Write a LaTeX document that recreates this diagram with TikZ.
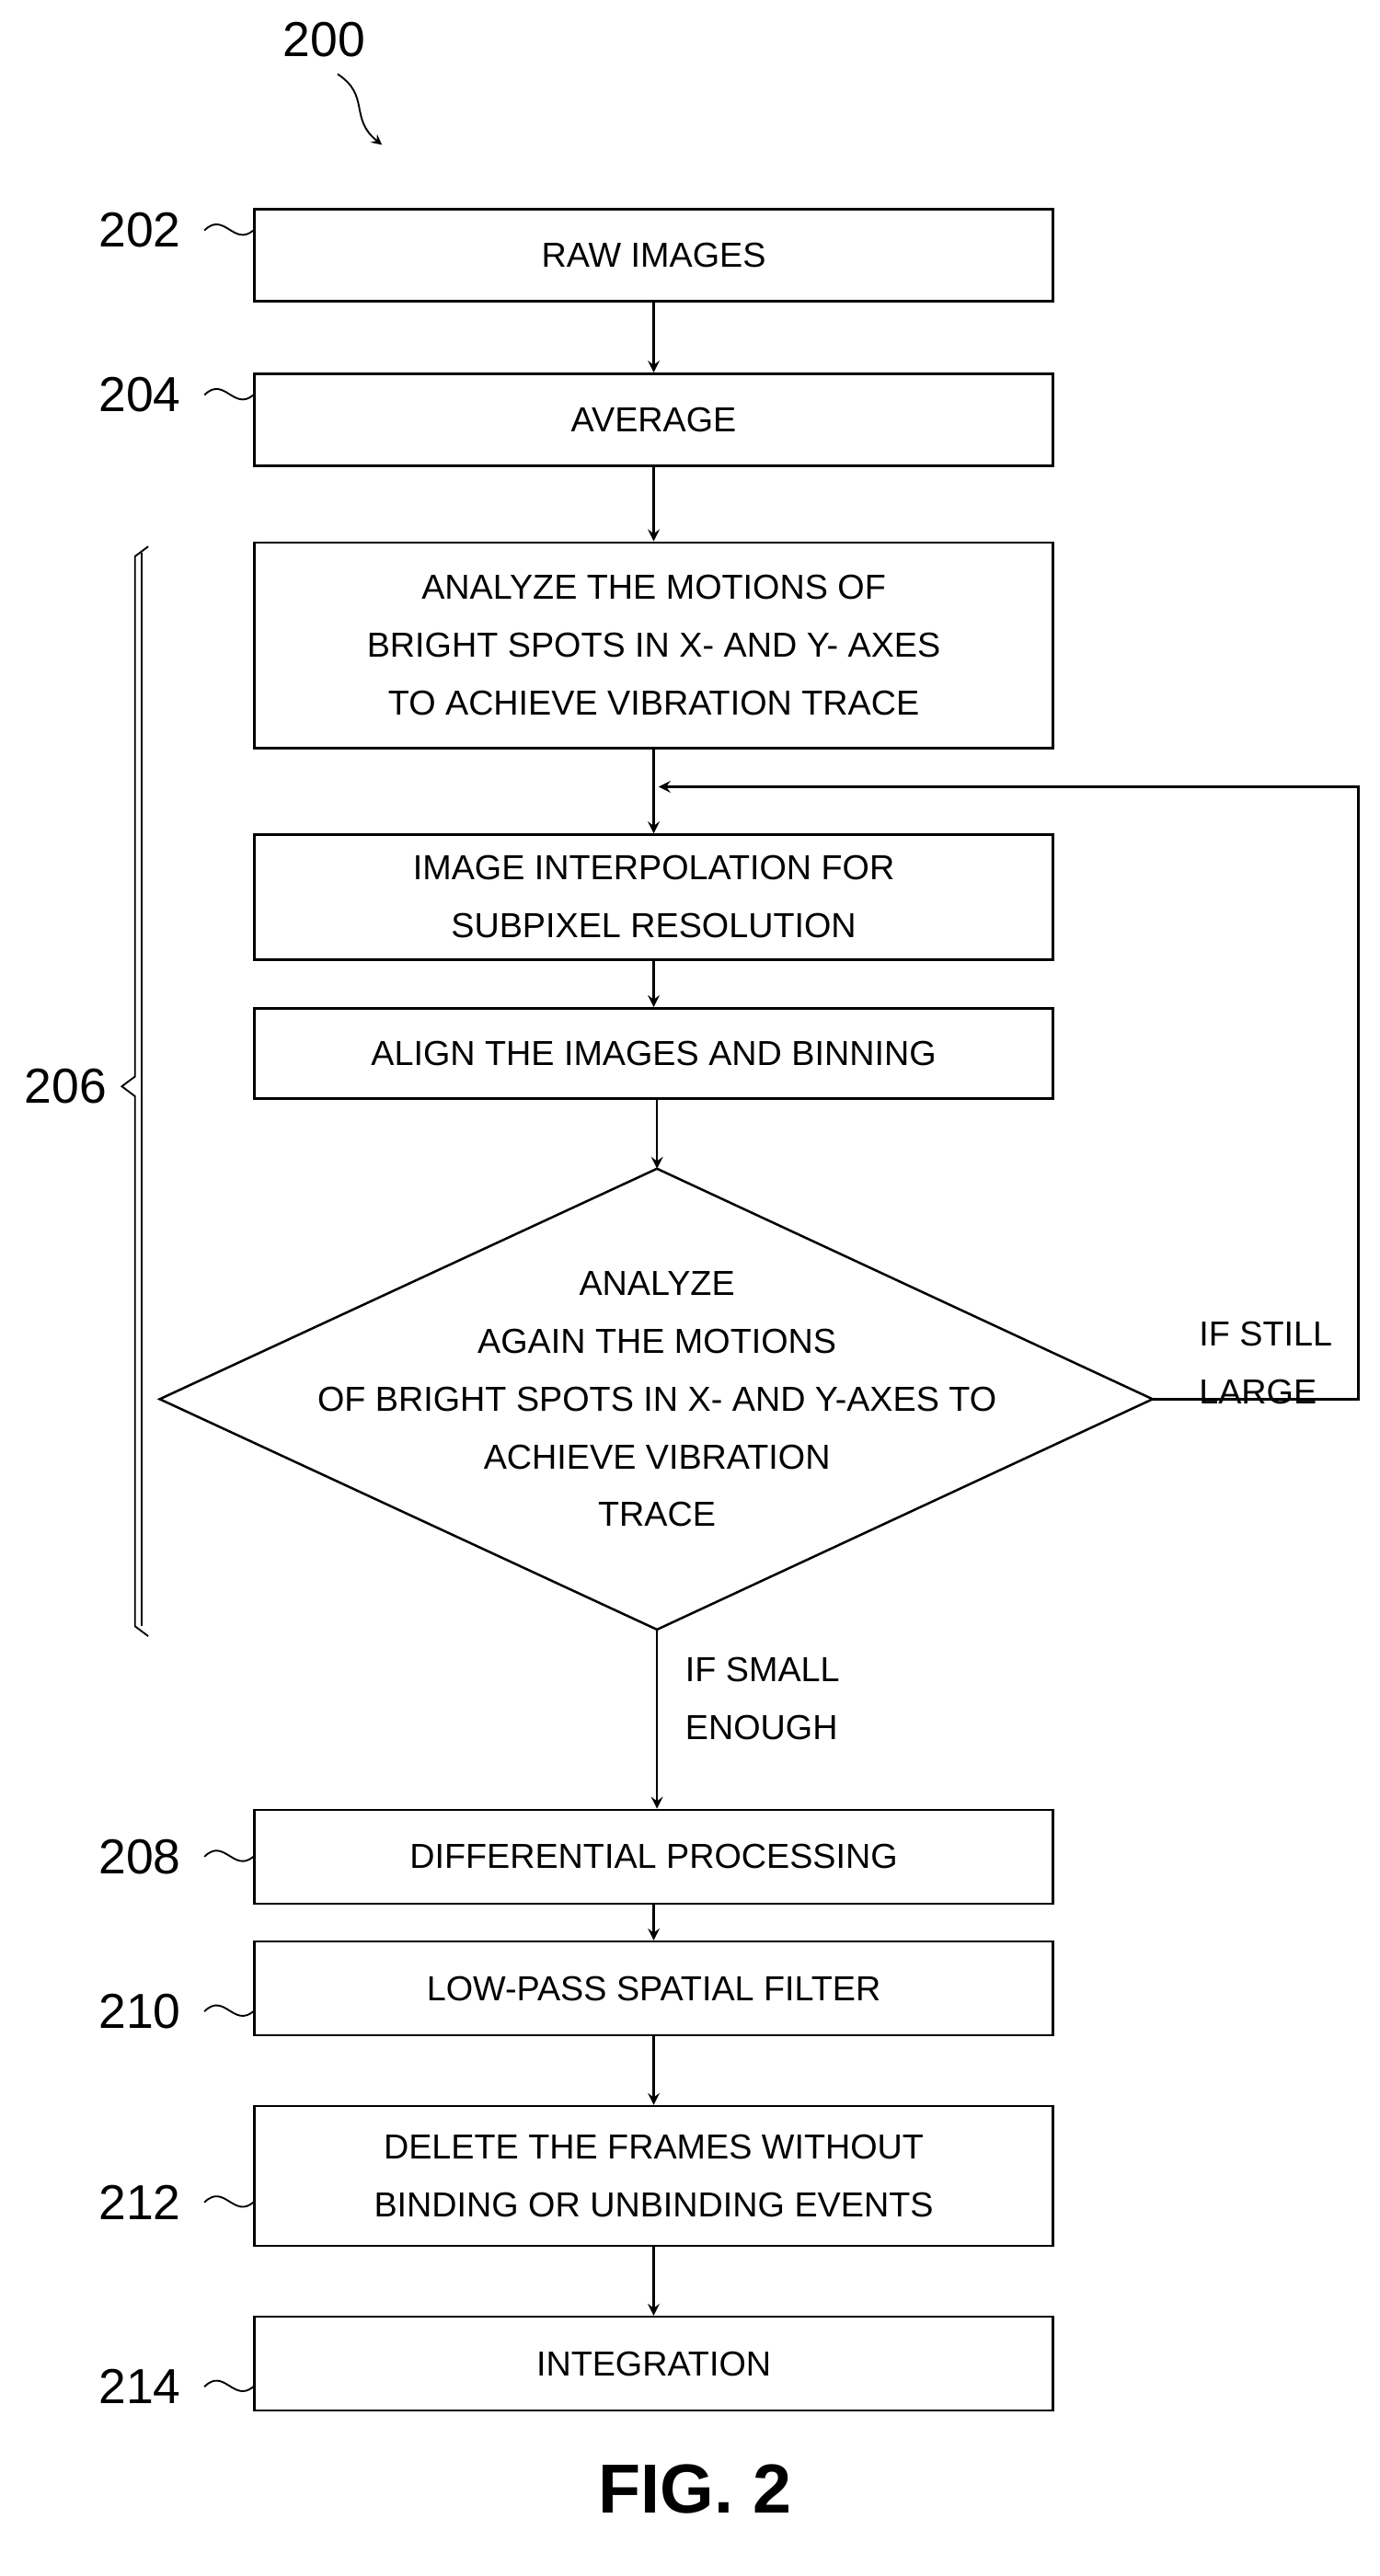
\documentclass[tikz,border=0pt]{standalone}
\usepackage{fontspec}
\setmainfont{Liberation Sans}
\begin{document}
\begin{tikzpicture}[x=0.02cm,y=-0.02cm,
    box/.style={draw, line width=0.8pt, minimum width=9.7cm, align=center,
      font=\fontsize{12}{20}\selectfont},
    num/.style={font=\fontsize{17}{20}\selectfont},
    lead/.style={line width=0.6pt},
    flow/.style={->, >=stealth, line width=0.8pt}]

    \useasboundingbox (0,0) rectangle (838,1565);

    \node[box, minimum height=1.12cm] (raw) at (397,155) {RAW IMAGES};
    \node[box, minimum height=1.12cm] (avg) at (397,255) {AVERAGE};
    \node[box, minimum height=2.5cm] (ana) at (397,392) {ANALYZE THE MOTIONS OF\\BRIGHT SPOTS IN X- AND Y- AXES\\TO ACHIEVE VIBRATION TRACE};
    \node[box, minimum height=1.52cm] (interp) at (397,545) {IMAGE INTERPOLATION FOR\\SUBPIXEL RESOLUTION};
    \node[box, minimum height=1.1cm] (align) at (397,640) {ALIGN THE IMAGES AND BINNING};
    % decision
    \coordinate (dtop) at (399,710);
    \coordinate (dbot) at (399,990);
    \coordinate (dleft) at (97,850);
    \coordinate (dright) at (700,850);
    \draw[line width=0.8pt] (dtop) -- (dright) -- (dbot) -- (dleft) -- cycle;
    \node[align=center, font=\fontsize{12}{20}\selectfont] (again) at (399,850)
      {ANALYZE\\AGAIN THE MOTIONS\\OF BRIGHT SPOTS IN X- AND Y-AXES TO\\ACHIEVE VIBRATION\\TRACE};
    \node[box, minimum height=1.14cm] (diff) at (397,1128) {DIFFERENTIAL PROCESSING};
    \node[box, minimum height=1.14cm] (low) at (397,1208) {LOW-PASS SPATIAL FILTER};
    \node[box, minimum height=1.7cm] (del) at (397,1322) {DELETE THE FRAMES WITHOUT\\BINDING OR UNBINDING EVENTS};
    \node[box, minimum height=1.14cm] (integ) at (397,1436) {INTEGRATION};

    % connectors
    \draw[flow] (raw) -- (avg);
    \draw[flow] (avg) -- (ana);
    \draw[flow] (ana) -- (interp);
    \draw[flow] (interp) -- (align);
    \draw[flow] (align.south -| dtop) -- (dtop);
    \draw[flow] (dbot) -- (diff.north -| dbot);
    \draw[flow] (diff) -- (low);
    \draw[flow] (low) -- (del);
    \draw[flow] (del) -- (integ);
    \coordinate (loopin) at (400,478);
    \draw[flow] (dright) -- (825,850) -- (825,478) -- (loopin);

    \node[anchor=west, align=left, font=\fontsize{12}{20}\selectfont] (large) at (722,828) {IF STILL\\LARGE};
    \node[anchor=west, align=left, font=\fontsize{12}{20}\selectfont] (small) at (410,1032) {IF SMALL\\ENOUGH};

    % reference numerals
    \node[num] (n200) at (197,24) {200};
    \coordinate (p200) at (232,88);
    \draw[lead, ->, >=stealth] (205,45) .. controls (225,58) and (212,72) .. (p200);
    \foreach \n/\b/\y in {202/raw/140, 204/avg/240, 208/diff/1128, 210/low/1222, 212/del/1338, 214/integ/1450} {
      \node[num] (n\n) at (85,\y) {\n};
      \draw[lead] (n\n.east) ++(8,0) .. controls +(12,-12) and +(-12,10) .. (\b.west |- 0,\y);
    }
    \node[num] (n206) at (40,660) {206};
    \draw[lead] (90,332) -- (82,338) -- (82,654) -- (74,660) -- (82,666) -- (82,988) -- (90,994);
    \draw[lead] (86,336) -- (86,988);

    \node[font=\bfseries\fontsize{24}{28}\selectfont] (fig) at (422,1512) {FIG. 2};
\end{tikzpicture}
\end{document}
